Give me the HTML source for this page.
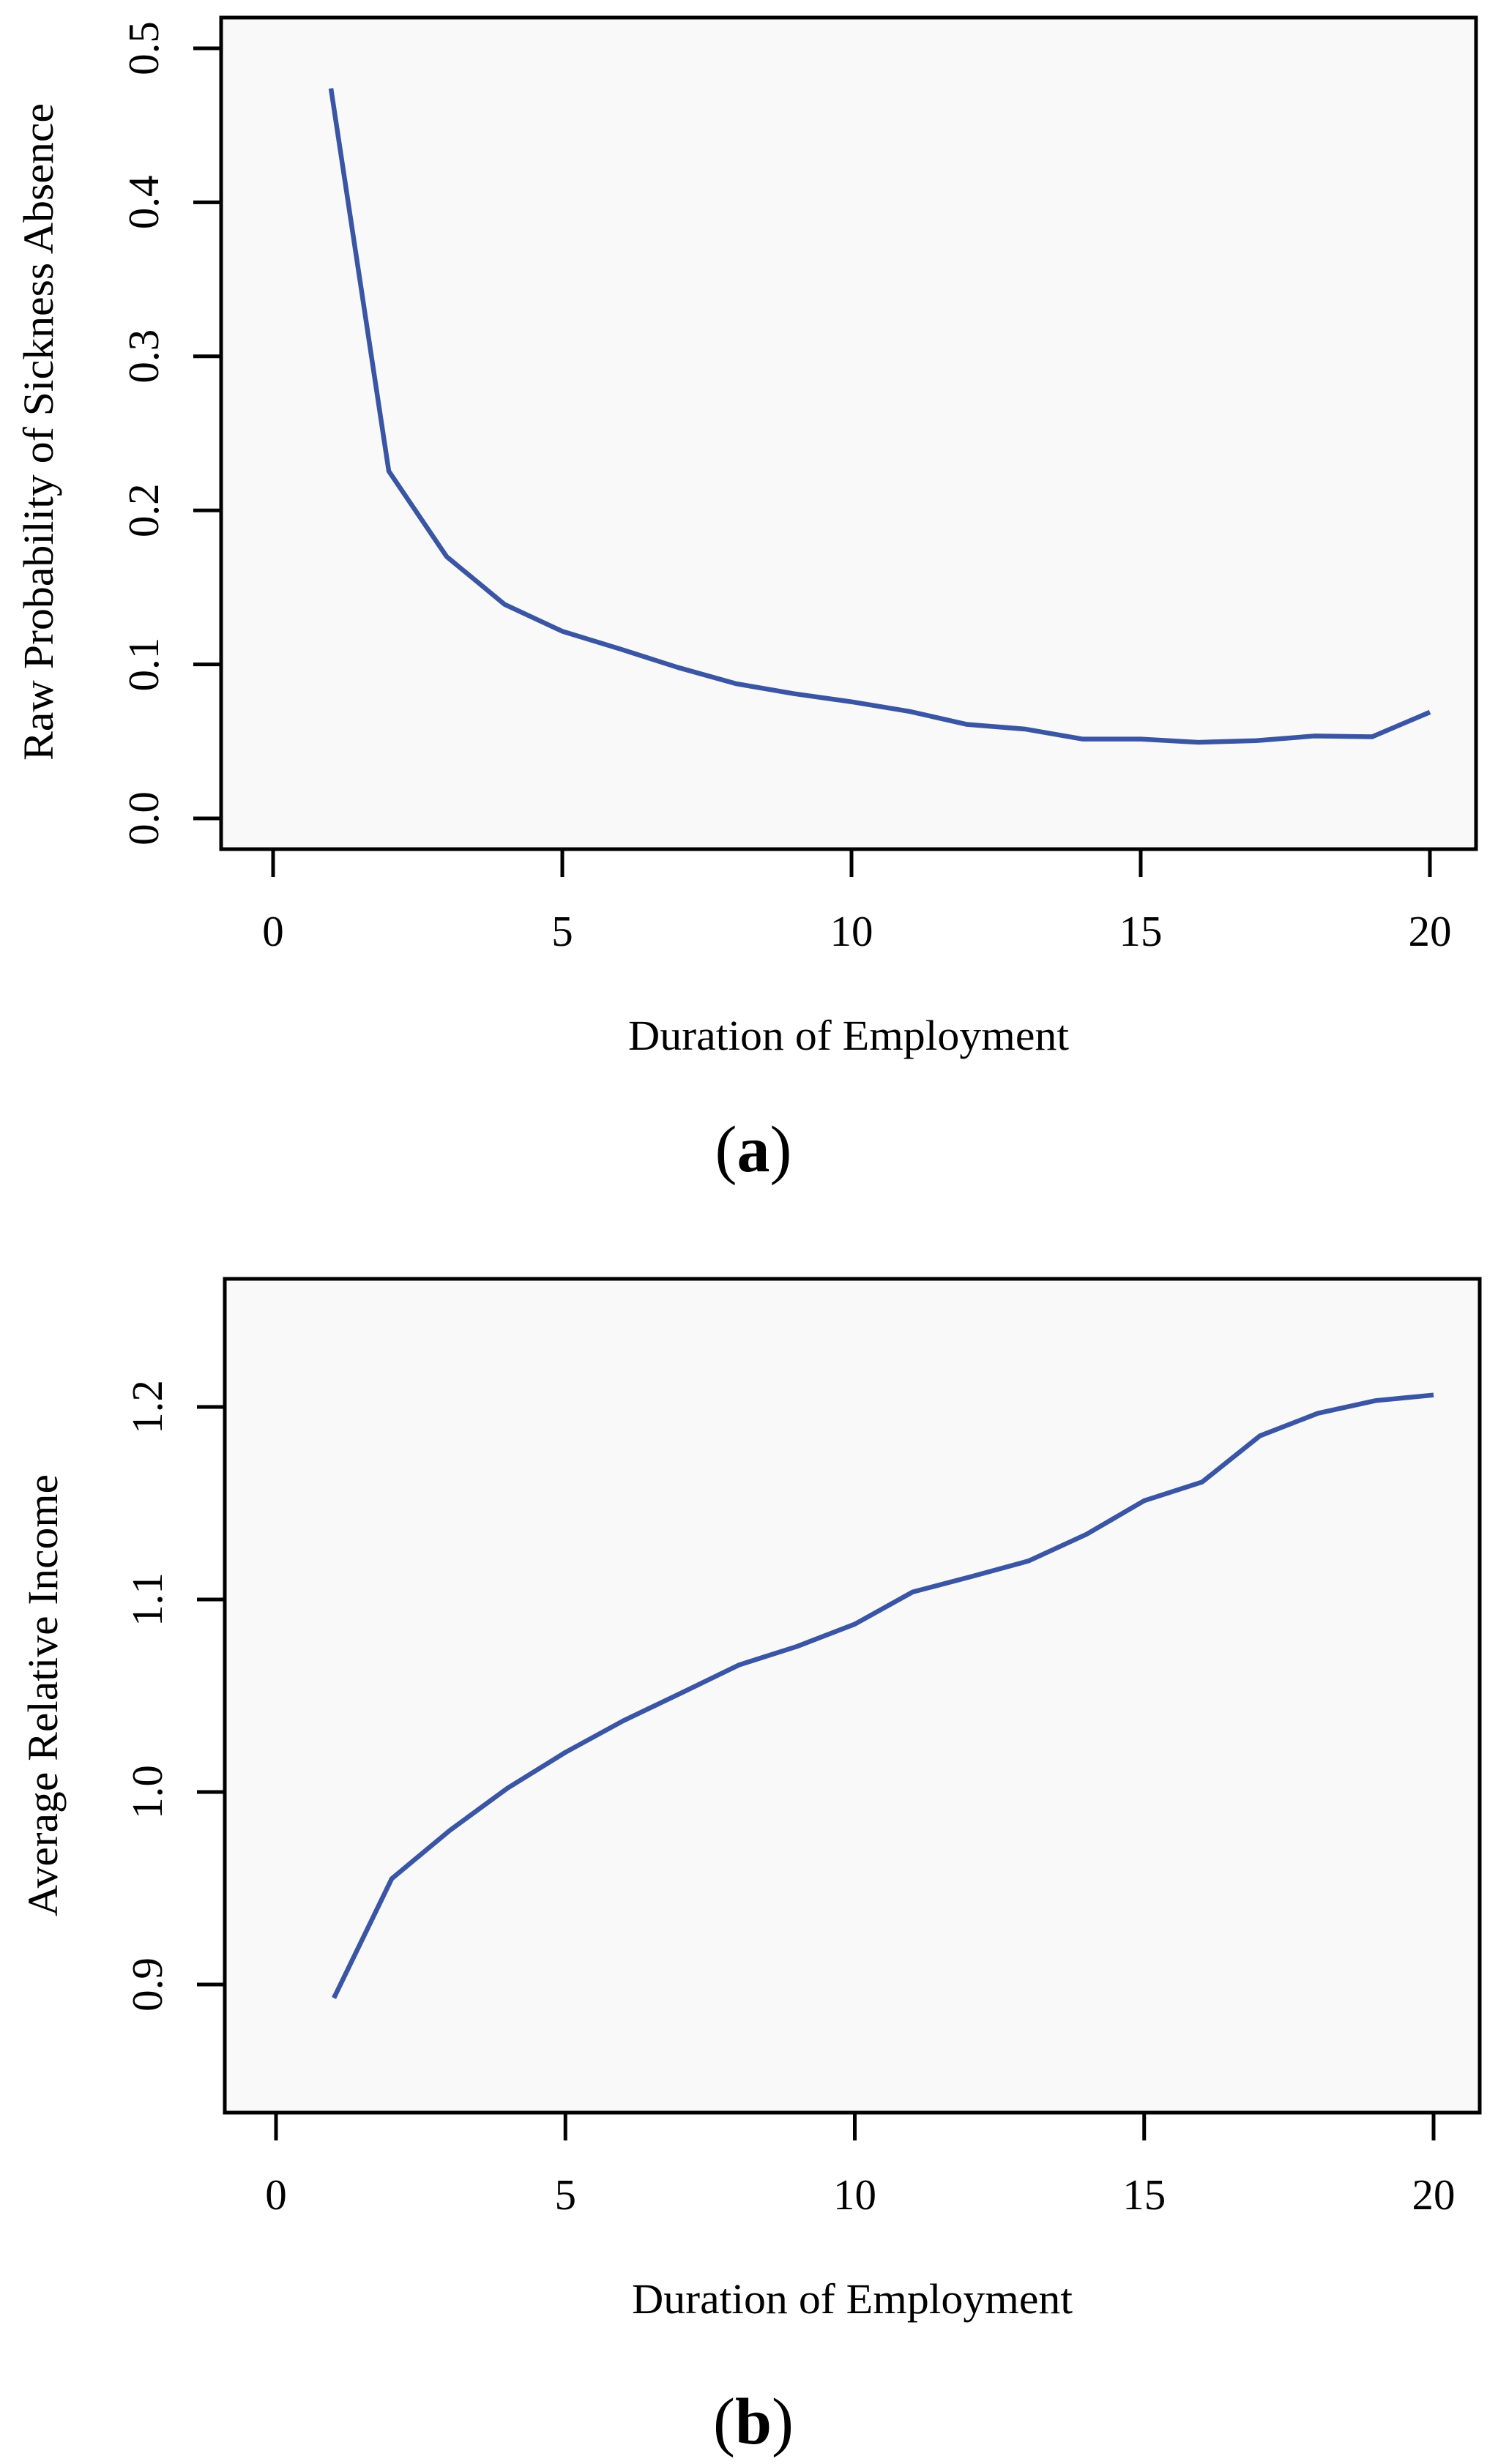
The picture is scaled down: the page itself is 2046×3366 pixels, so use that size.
<!DOCTYPE html>
<html><head><meta charset="utf-8"><style>
html,body{margin:0;padding:0;background:#fff;}
svg{display:block;font-family:"Liberation Serif",serif;}
</style></head><body>
<svg id="fig" width="2046" height="3366" viewBox="0 0 2046 3366" xmlns="http://www.w3.org/2000/svg"></svg>
<script>
const xValues=[1,2,3,4,5,6,7,8,9,10,11,12,13,14,15,16,17,18,19,20];
const sicknessValues=[0.474,0.2255,0.170,0.139,0.1215,0.110,0.098,0.0875,0.081,0.0757,0.0695,0.061,0.058,0.0515,0.0515,0.0494,0.0505,0.0535,0.053,0.069];
const incomeValues=[0.893,0.955,0.980,1.002,1.0206,1.037,1.0514,1.066,1.0756,1.0872,1.1039,1.1118,1.12,1.1338,1.1513,1.161,1.185,1.1967,1.2033,1.2062];
const xTicks=[0,5,10,15,20];
const yTicksA=[0.0,0.1,0.2,0.3,0.4,0.5];
const yTicksB=[0.9,1.0,1.1,1.2];
const yTickLabelsA=["0.0","0.1","0.2","0.3","0.4","0.5"];
const yTickLabelsB=["0.9","1.0","1.1","1.2"];

const NS="http://www.w3.org/2000/svg";
const svg=document.getElementById('fig');
function mk(tag,attrs,parent){const e=document.createElementNS(NS,tag);for(const k in attrs)e.setAttribute(k,attrs[k]);(parent||svg).appendChild(e);return e;}

function panel(cfg){
  const g=mk('g',{});
  
  
  const sx=v=>cfg.x0+(v-0)*cfg.xu;
  const sy=v=>cfg.yRef-(v-cfg.vRef)*cfg.yu;
  const bg=mk('rect',{x:cfg.L,y:cfg.T,width:cfg.R-cfg.L,height:cfg.B-cfg.T,fill:'#f9f9f9',stroke:'#000','stroke-width':5},g);
  
  
  xTicks.forEach(t=>{
    const l=mk('line',{x1:sx(t),x2:sx(t),y1:cfg.B,y2:cfg.B+38,stroke:'#000','stroke-width':5},g);
    
    
    const tx=mk('text',{x:sx(t),y:cfg.B+132,'font-size':59,'text-anchor':'middle',fill:'#000'},g);
    tx.textContent=String(t);
    
    
  });
  cfg.yTicks.forEach((t,i)=>{
    const y=sy(t);
    const l=mk('line',{x1:cfg.L-38,x2:cfg.L,y1:y,y2:y,stroke:'#000','stroke-width':5},g);
    
    
    const tx=mk('text',{x:0,y:0,'font-size':59,'text-anchor':'middle',fill:'#000',transform:`translate(${cfg.L-86},${y}) rotate(-90)`},g);
    tx.textContent=cfg.yLabels[i];
    
    
  });
  const pts=xValues.map((x,i)=>sx(x)+','+sy(cfg.values[i])).join(' ');
  const pl=mk('polyline',{points:pts,fill:'none',stroke:'#3a55a4','stroke-width':6.5,'stroke-linejoin':'round'},g);
  
  
  const xt=mk('text',{x:(cfg.L+cfg.R)/2,y:cfg.xTitleY,'font-size':58,'text-anchor':'middle',fill:'#000',textLength:602,lengthAdjust:'spacingAndGlyphs'},g);
  xt.textContent='Duration of Employment';
  
  
  const yt=mk('text',{x:0,y:0,'font-size':58,'text-anchor':'middle',fill:'#000',textLength:cfg.yTitleLen,lengthAdjust:'spacingAndGlyphs',transform:`translate(${cfg.yTitleX},${cfg.yTitleCY}) rotate(-90)`},g);
  yt.textContent=cfg.yTitle;
  
  
  const cap=mk('text',{x:1029,y:cfg.capY,'font-size':90,'text-anchor':'middle',fill:'#000'},g);
  const p1=mk('tspan',{},cap);p1.textContent='(';
  const p2=mk('tspan',{'font-weight':'bold'},cap);p2.textContent=cfg.cap;
  const p3=mk('tspan',{},cap);p3.textContent=')';
  
  
}

panel({name:'panel-a',L:302,T:24,R:2016,B:1160,x0:373,xu:79,yRef:1118,vRef:0,yu:2104,
  yTicks:yTicksA,yLabels:yTickLabelsA,values:sicknessValues,xTitleY:1434,
  yTitle:'Raw Probability of Sickness Absence',yTitleX:72,yTitleCY:590,yTitleLen:898,cap:'a',capY:1600});
panel({name:'panel-b',L:307,T:1747,R:2021,B:2886,x0:377,xu:79.05,yRef:2711,vRef:0.9,yu:2630,
  yTicks:yTicksB,yLabels:yTickLabelsB,values:incomeValues,xTitleY:3160,
  yTitle:'Average Relative Income',yTitleX:78,yTitleCY:2316,yTitleLen:604,cap:'b',capY:3338});
</script>
</body></html>
